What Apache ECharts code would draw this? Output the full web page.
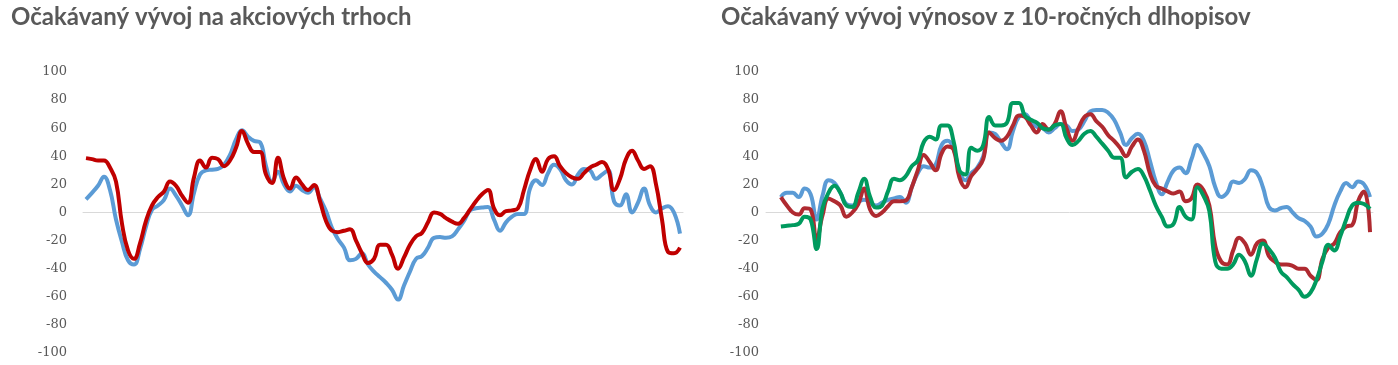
<!DOCTYPE html>
<html><head><meta charset="utf-8">
<script src="https://cdn.jsdelivr.net/npm/echarts@6/dist/echarts.min.js"></script>
<style>html,body{margin:0;padding:0;background:#fff}#c{width:1398px;height:365px}</style>
</head><body><div id="c"></div>
<script>
// Left chart: stock markets
const leftTitle = 'Očakávaný vývoj na akciových trhoch';
const rightTitle = 'Očakávaný vývoj výnosov z 10-ročných dlhopisov';
const yTicks = [-100, -80, -60, -40, -20, 0, 20, 40, 60, 80, 100];

const leftBlue = [9.4,14,19,25.5,16,-5,-21,-34,-37,-26,-10,2,5,9,17,12,5,-2,14,27,30,30.5,31,34,41,52,58.5,54,51,50,33,22,29,20,15,19,16,14,18,10,1,-11,-19,-25,-34,-33,-29,-37,-42,-46,-50,-55,-62,-52,-42,-33,-31,-25,-18,-17.5,-18,-17,-12,-6,1.5,3,3.5,4,-5,-13,-7,-3,-1,-1,17,23,19.5,28,34,31,23,20,27,31,30,24,27,30,8,5,13,0,7,17,5,0,3,4.5,0,-15];
const leftRed = [38.7,38,37,37,32,22,-8,-27,-33,-22,-6,5,11,15,22,19,12,7,25,37,32,39,38,33,37,46,58,49,43,43,27,21,39,24,17,25,20,16,19.5,8,-6,-13,-14,-13,-12,-20,-29,-36,-33,-23,-23,-30,-40,-32,-23,-17,-14.5,-7,0,-1,-4,-6.5,-8,-4,2,8,13,16,3,-2,1,1.5,3,16,30,38,29,38,40,33,28,25,24,28,32,34,36,31,16,24,38,44,37,31,33,20,-5,-28,-29,-25];

// Right chart: 10-year bond yields
const rightBlue = [11,14,14,11,17,13,-5,12,23,21,14,6,5,7.5,9,7,5,7,9,10,11,7,18,28,33,32,34,48,51,46,29,23,28,32,40,57,56,50,45,58,68,70,65,61,60,57,60,63,62,58,59,65,72,73,73,71,66,57,48,53,56,51,37,22,13,22,30,32,28,38,48,42,33,18,11,14,22,21,24,30,28,18,4,1.5,3,4,0,-4,-6,-10,-17,-15,-8,5,15,21,18,22,20,11];
const rightRed = [11,5,0,-1.5,3,2,-19,-2,10,8,5,-3,0,6,17,2,-2.5,0,4.5,8,8,8.6,18,30,41,36,30,42,47,45,25,18,26,31,38,57,53,51,54,62,69,68,62,57,63,59,63,72,60,51,60,68,70,65,61,55,51,46,40,47,52,44,28,19,17,15,13.5,15,8,10,20,16,5,-24,-35,-37,-27,-18,-22,-30,-22,-20,-31,-35,-37,-37,-38,-40,-40,-45,-48,-33,-25,-22,-14,-10,-9,8,15,-14];
const rightGreen = [-10,-9.5,-9,-8,-3,-5,-26,3,14,19,14,5,4,14,24,11,3.5,5,15,24,23,26,33,37,50,54,52,62,62,51,30,27,46,44,48,68,62,62,64,78,78,69,66,64,60,59,62,63,53,48,51,56,58,54,49,44,39,39,25,29,31,26,16,5,-3,-10,-8,4,-3,-5,18,12,1,-35,-40,-40,-37,-30,-35,-45,-33,-22,-26,-32,-42,-46,-51,-55,-60,-57,-48,-35,-23,-27,-17,-5,5,7,6,2.6];

const leftCats = leftBlue.map((_, i) => 'L' + i);
const rightLead = 2; // empty periods before the right series start
const rightCats = Array.from({length: rightBlue.length + rightLead}, (_, i) => 'R' + i);
const pad = a => Array(rightLead).fill(null).concat(a);

const C_BLUE = '#5B9BD5', C_RED = '#C00000', C_DRED = '#AF2A30', C_GREEN = '#009A5E';
const labelStyle = {color: '#595959', fontFamily: 'DejaVu Serif', fontSize: 13};
const titleStyle = {fontFamily: 'Lato', fontWeight: 'bold', fontSize: 24, color: '#595959'};

function yAxis(gi, margin) {
  return {type: 'value', gridIndex: gi, min: -100, max: 100, interval: 20,
    splitLine: {show: false}, axisLine: {show: false}, axisTick: {show: false},
    axisLabel: Object.assign({margin: margin, formatter: v => yTicks.includes(v) ? String(v) : ''}, labelStyle)};
}
function xAxis(gi, cats) {
  return {type: 'category', gridIndex: gi, data: cats, boundaryGap: true,
    axisLine: {lineStyle: {color: '#D9D9D9', width: 1}}, axisTick: {show: false}, axisLabel: {show: false}, splitLine: {show: false}};
}
function line(name, data, color, xi) {
  return {name, type: 'line', data, xAxisIndex: xi, yAxisIndex: xi, smooth: 0.45, symbol: 'none',
    lineStyle: {color, width: 4}, connectNulls: false};
}

const chart = echarts.init(document.getElementById('c'), null, {renderer: 'canvas'});
chart.setOption({
  animation: false,
  title: [
    {text: leftTitle, left: 6, top: 0, textStyle: titleStyle},
    {text: rightTitle, left: 716, top: 0, textStyle: titleStyle}
  ],
  grid: [
    {left: 83, top: 72, width: 600, height: 281},
    {left: 766, top: 72, width: 607, height: 281}
  ],
  xAxis: [xAxis(0, leftCats), xAxis(1, rightCats)],
  yAxis: [yAxis(0, 16), yAxis(1, 7)],
  series: [
    line('leftBlue', leftBlue, C_BLUE, 0),
    line('leftRed', leftRed, C_RED, 0),
    line('rightBlue', pad(rightBlue), C_BLUE, 1),
    line('rightRed', pad(rightRed), C_DRED, 1),
    line('rightGreen', pad(rightGreen), C_GREEN, 1)
  ]
});
</script></body></html>
